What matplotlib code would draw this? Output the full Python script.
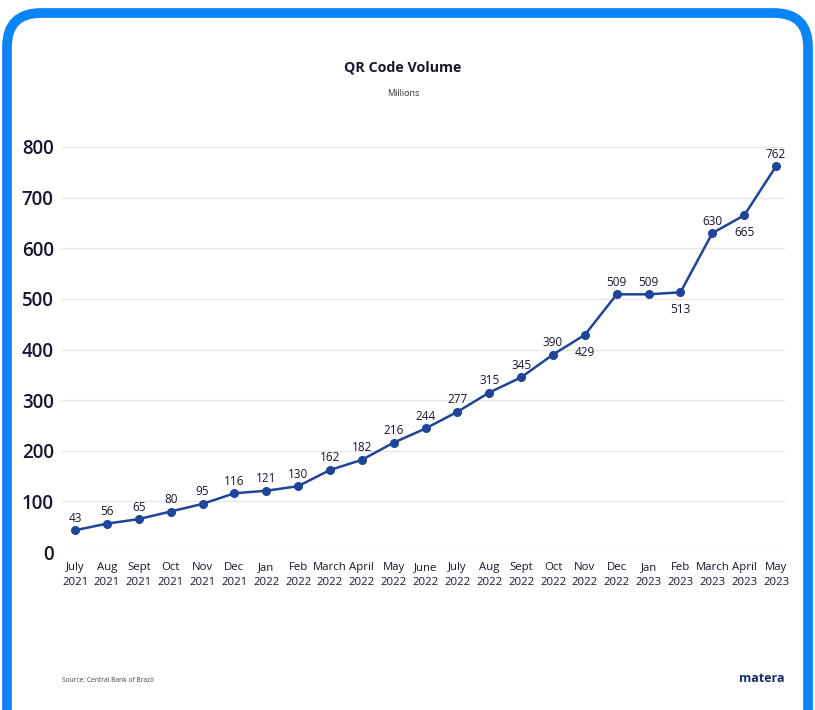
import matplotlib
matplotlib.use("Agg")
from matplotlib import pyplot as plt
from matplotlib.patches import FancyBboxPatch

# 数据
months = ["July\n2021", "Aug\n2021", "Sept\n2021", "Oct\n2021", "Nov\n2021", "Dec\n2021",
          "Jan\n2022", "Feb\n2022", "March\n2022", "April\n2022", "May\n2022", "June\n2022",
          "July\n2022", "Aug\n2022", "Sept\n2022", "Oct\n2022", "Nov\n2022", "Dec\n2022",
          "Jan\n2023", "Feb\n2023", "March\n2023", "April\n2023", "May\n2023"]
volume = [43, 56, 65, 80, 95, 116, 121, 130, 162, 182, 216, 244, 277, 315, 345, 390,
          429, 509, 509, 513, 630, 665, 762]
# 标签在点下方的月份
below = ["Nov\n2022", "Feb\n2023", "April\n2023"]
y_ticks = [0, 100, 200, 300, 400, 500, 600, 700, 800]

plt.rcParams['font.family'] = ['Open Sans', 'DejaVu Sans']

W, H = 815, 710
fig = plt.figure(figsize=(W / 100, H / 100), dpi=100)
fig.patch.set_facecolor("white")

# 蓝色圆角边框
border = FancyBboxPatch((7, -40), W - 14, H - 13 + 40,
                        boxstyle="round,pad=0,rounding_size=34",
                        transform=None, facecolor="none", edgecolor="#0B84F8",
                        linewidth=7, zorder=5)
fig.patches.append(border)

ax = fig.add_axes([62 / W, 1 - 552 / H, (785 - 62) / W, (552 - 147) / H])
ax.set_facecolor("none")

line_color = "#1E4597"
text_color = "#15172B"
x = list(range(len(months)))
ax.plot(x, volume, color=line_color, linewidth=1.8, marker="o", markersize=5.5,
        clip_on=False, zorder=3)

for xi, m, v in zip(x, months, volume):
    if m in below:
        ax.annotate(str(v), (xi, v), xytext=(0, -8), textcoords="offset points",
                    ha="center", va="top", fontsize=8.5, color=text_color)
    else:
        ax.annotate(str(v), (xi, v), xytext=(0, 4), textcoords="offset points",
                    ha="center", va="bottom", fontsize=8.5, color=text_color)

ax.set_xlim(-0.41, 22.28)
ax.set_ylim(0, 800)
ax.set_yticks(y_ticks)
ax.set_yticklabels([str(t) for t in y_ticks], fontsize=13.5, color=text_color,
                   fontweight="semibold")
ax.set_xticks(x)
ax.set_xticklabels(months, fontsize=8.2, color=text_color, linespacing=1.5)
ax.tick_params(axis="both", length=0)
ax.tick_params(axis="y", pad=6)
ax.tick_params(axis="x", pad=7)
ax.grid(axis="y", color="#E6E6E6", linewidth=0.9)
ax.set_axisbelow(True)
for s in ax.spines.values():
    s.set_visible(False)

fig.text(403 / W, 1 - 67 / H, "QR Code Volume", ha="center", va="center",
         fontsize=10.3, fontweight="bold", color=text_color)
fig.text(403 / W, 1 - 93 / H, "Millions", ha="center", va="center",
         fontsize=6.5, color="#333333")
fig.text(62 / W, 1 - 681 / H, "Source: Central Bank of Brazil", ha="left", va="center",
         fontsize=4.8, color="#444444")
fig.text(785 / W, 1 - 679 / H, "matera", ha="right", va="center",
         fontsize=9, fontweight="bold", color="#1B2A6B")

fig.savefig("out.png", dpi=100, facecolor="white")
